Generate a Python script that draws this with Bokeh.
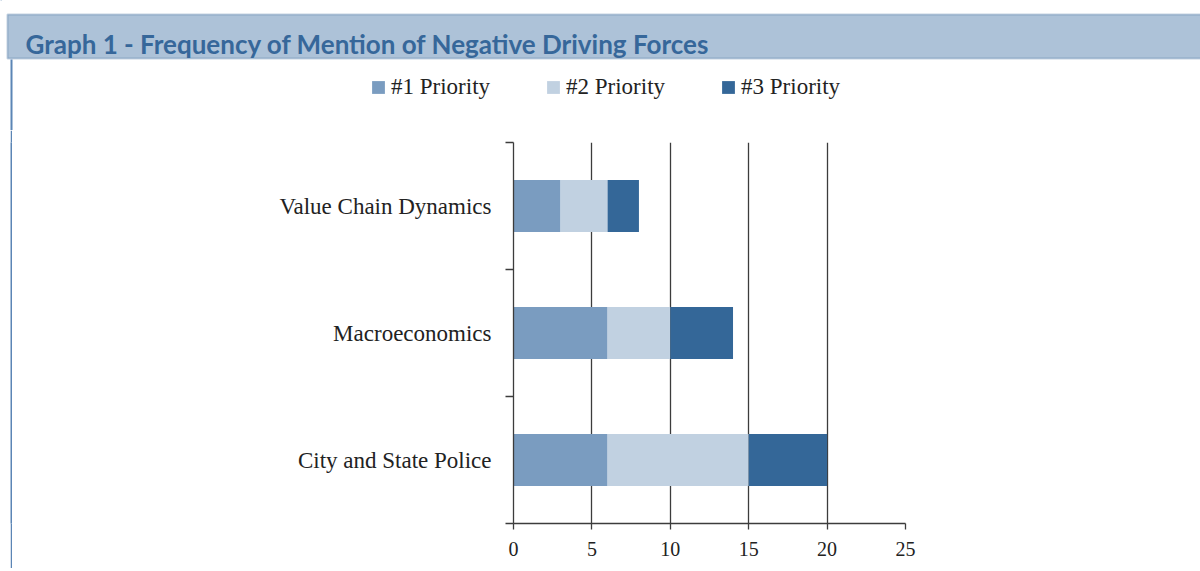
from bokeh.plotting import figure
from bokeh.layouts import column, row
from bokeh.models import (Range1d, FixedTicker, Legend, LegendItem, BoxAnnotation, Label, Spacer)
from bokeh.embed import file_html
from bokeh.resources import INLINE

# ---- data ----
categories = ["City and State Police", "Macroeconomics", "Value Chain Dynamics"]
series_names = ["#1 Priority", "#2 Priority", "#3 Priority"]
priority1 = [6, 6, 3]
priority2 = [9, 4, 3]
priority3 = [5, 4, 2]
x_ticks = [0, 5, 10, 15, 20, 25]
title_text = "Graph 1 - Frequency of Mention of Negative Driving Forces"

colors = ["#7a9cc0", "#c1d1e1", "#346798"]
axis_color = "#3c3c3c"
text_color = "#222222"
band_fill = "#adc2d8"
band_line = "#3d6a9c"
side_line = "#5b85b5"
serif = "Liberation Serif"

# ---------- header (band, title, legend) ----------
HH = 130
header = figure(width=1200, height=HH, output_backend="svg", toolbar_location=None,
                x_range=Range1d(0, 1200), y_range=Range1d(HH, 0),
                x_axis_type=None, y_axis_type=None, min_border=0)
header.outline_line_color = None
header.grid.visible = False
header.background_fill_color = "white"
header.border_fill_color = "white"

header.add_layout(BoxAnnotation(left=7, right=1201, top=14, bottom=58,
                                fill_color=band_fill, fill_alpha=1,
                                line_color=band_line, line_width=2, level="underlay"))
header.add_layout(BoxAnnotation(left=10, right=12, top=59, bottom=HH + 2,
                                fill_color=side_line, fill_alpha=1, line_color=None,
                                level="underlay"))
header.add_layout(Label(x=25, y=43, text=title_text, text_font="Lato",
                        text_font_style="bold", text_font_size="26px",
                        text_color="#36679a", text_baseline="middle"))

# legend proxies (kept off-screen; they only supply the legend swatches)
proxies = [header.hbar(y=[-500], left=[0], right=[1], height=1, fill_color=c, line_color=None)
           for c in colors]
legend = Legend(items=[LegendItem(label=n, renderers=[r]) for n, r in zip(series_names, proxies)],
                orientation="horizontal", location=(370, HH - 100),
                glyph_width=16, glyph_height=16, label_standoff=5, spacing=55,
                padding=0, margin=0, border_line_color=None, background_fill_alpha=0,
                label_text_font=serif, label_text_font_size="23px",
                label_text_color=text_color, label_height=22)
header.add_layout(legend, "center")

# ---------- main chart ----------
MH = 438
strip = figure(width=2, height=MH, output_backend="svg", toolbar_location=None,
               x_axis_type=None, y_axis_type=None, min_border=0)
strip.outline_line_color = None
strip.grid.visible = False
strip.background_fill_color = side_line
strip.border_fill_color = side_line

p = figure(width=1188, height=MH, output_backend="svg", toolbar_location=None,
           x_range=Range1d(0, 25), y_range=Range1d(0, len(categories)),
           min_border_left=501, min_border_right=295,
           min_border_top=12, min_border_bottom=45)
p.outline_line_color = None
p.background_fill_color = "white"
p.border_fill_color = "white"

ypos = [i + 0.5 for i in range(len(categories))]
series = [priority1, priority2, priority3]
lefts = [0] * len(categories)
for vals, col in zip(series, colors):
    rights = [l + v for l, v in zip(lefts, vals)]
    p.hbar(y=ypos, left=lefts, right=rights, height=0.41,
           fill_color=col, line_color=None)
    lefts = rights

# x axis
p.xaxis.ticker = FixedTicker(ticks=x_ticks)
p.xaxis.axis_line_color = axis_color
p.xaxis.axis_line_width = 1.3
p.xaxis.major_tick_line_color = axis_color
p.xaxis.major_tick_line_width = 1.3
p.xaxis.major_tick_out = 6
p.xaxis.major_tick_in = 0
p.xaxis.minor_tick_line_color = None
p.xaxis.major_label_standoff = 12
p.xaxis.major_label_text_font = serif
p.xaxis.major_label_text_font_size = "20px"
p.xaxis.major_label_text_color = text_color

# y axis
p.yaxis.ticker = FixedTicker(ticks=ypos, minor_ticks=list(range(len(categories) + 1)))
p.yaxis.major_label_overrides = {y: c for y, c in zip(ypos, categories)}
p.yaxis.axis_line_color = axis_color
p.yaxis.axis_line_width = 1.3
p.yaxis.major_tick_line_color = None
p.yaxis.major_tick_out = 0
p.yaxis.major_tick_in = 0
p.yaxis.minor_tick_line_color = axis_color
p.yaxis.minor_tick_line_width = 1.3
p.yaxis.minor_tick_out = 8
p.yaxis.minor_tick_in = 0
p.yaxis.major_label_standoff = 14
p.yaxis.major_label_text_font = serif
p.yaxis.major_label_text_font_size = "23px"
p.yaxis.major_label_text_color = text_color

# grid
p.ygrid.grid_line_color = None
p.xgrid.ticker = FixedTicker(ticks=x_ticks[1:])
p.xgrid.grid_line_color = axis_color
p.xgrid.grid_line_width = 1.3

layout = column(header, row(Spacer(width=10, height=MH), strip, p, spacing=0), spacing=0)
open("out.html", "w").write(file_html(layout, INLINE))
